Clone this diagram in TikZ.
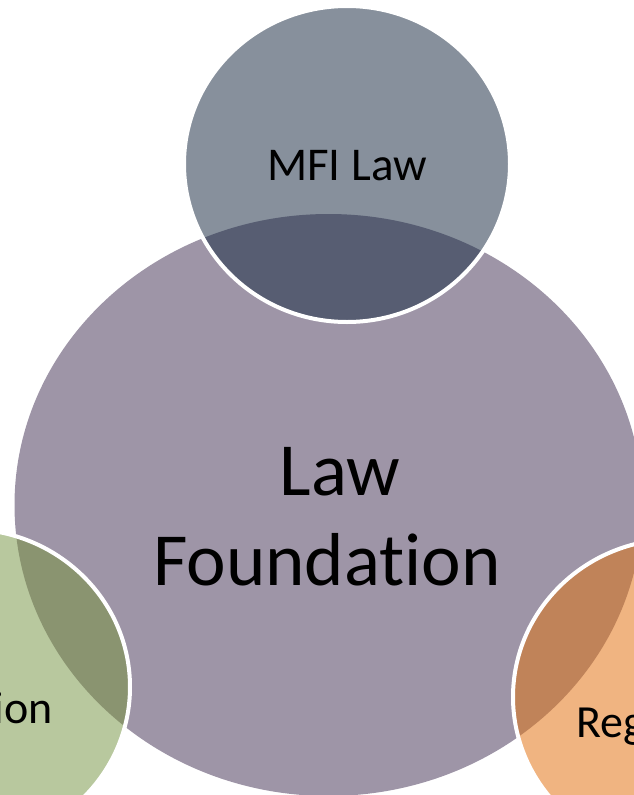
\documentclass[tikz,border=0pt]{standalone}
\usepackage{fontspec}
\setmainfont{Carlito}[Ligatures=NoCommon]
\definecolor{bigc}{HTML}{9E95A7}
\definecolor{topl}{HTML}{87909C}
\definecolor{topd}{HTML}{575D72}
\definecolor{grnl}{HTML}{B8C89E}
\definecolor{grnd}{HTML}{8A9470}
\definecolor{orgl}{HTML}{F0B481}
\definecolor{orgd}{HTML}{C08359}
\tikzset{
  lbl/.style={inner sep=0pt, text=black},
  rim/.style={draw=white, line width=4pt}
}
\begin{document}
\begin{tikzpicture}[x=1pt,y=-1pt]
\useasboundingbox (0,0) rectangle (634,795);
\clip (0,0) rectangle (634,795);
\def\bigpath{(328.5,505) ellipse [x radius=314pt, y radius=291pt]}
\def\toppath{(347,164) ellipse [x radius=163pt, y radius=158pt]}
\def\grnpath{(-33,687) ellipse [x radius=163pt, y radius=158pt]}
\def\orgpath{(676,697) ellipse [x radius=163pt, y radius=158pt]}
% big circle
\fill[bigc] \bigpath;
% top satellite
\fill[topl] \toppath;
\begin{scope}\clip \bigpath; \fill[topd] \toppath;\end{scope}
\path[rim] \toppath;
% left satellite
\fill[grnl] \grnpath;
\begin{scope}\clip \bigpath; \fill[grnd] \grnpath;\end{scope}
\path[rim] \grnpath;
% right satellite
\fill[orgl] \orgpath;
\begin{scope}\clip \bigpath; \fill[orgd] \orgpath;\end{scope}
\path[rim] \orgpath;
% labels
\node[lbl, anchor=base, font=\fontsize{47}{56}\selectfont] (mfi) at (347,180) {MFI Law};
\node[lbl, anchor=base, font=\fontsize{75}{90}\selectfont] (law) at (340,495) {Law};
\node[lbl, anchor=base, font=\fontsize{75}{90}\selectfont] (found) at (327,585) {Foundation};
\node[lbl, anchor=base east, font=\fontsize{46}{55}\selectfont] (left) at (53,723) {ion};
\node[lbl, anchor=base west, font=\fontsize{46}{55}\selectfont] (right) at (576,737) {Regulation};
\end{tikzpicture}
\end{document}
